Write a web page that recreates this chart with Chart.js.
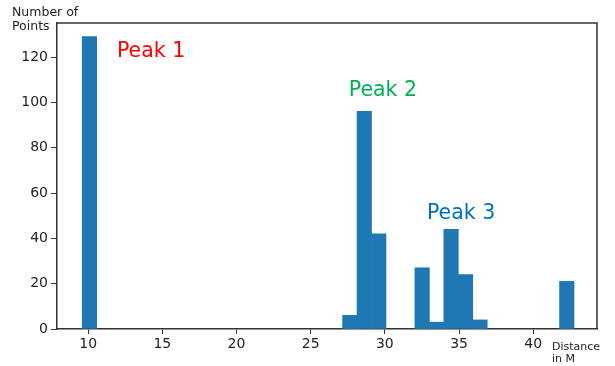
<!DOCTYPE html>
<html>
<head>
<meta charset="utf-8">
<script src="https://cdn.jsdelivr.net/npm/chart.js@4/dist/chart.umd.min.js"></script>
<style>
  html, body { margin: 0; padding: 0; background: #fff; }
  #wrap { width: 615px; height: 366px; }
</style>
</head>
<body>
<div id="wrap"><canvas id="hist"></canvas></div>
<script>
// histogram bins (centres in metres) and counts
const binCenters = [10.088, 27.638, 28.613, 29.588, 32.513, 33.488, 34.463, 35.438, 36.413, 42.263];
const counts     = [129,    6,      96,     42,     27,     3,      44,     24,     4,      21];

const xTicks = [10, 15, 20, 25, 30, 35, 40];
const yTicks = [0, 20, 40, 60, 80, 100, 120];

// peak labels: text, colour, data position (left / baseline)
const peakNames  = ['Peak 1', 'Peak 2', 'Peak 3'];
const peakColors = ['#ff0000', '#00b050', '#0070c0'];
const peakX      = [11.94, 27.57, 32.84];
const peakY      = [120.2, 102.9, 48.6];

const axisColor = '#333333';

Chart.defaults.font.family = '"DejaVu Sans", Verdana, sans-serif';
Chart.defaults.color = '#222';

const ctx = document.getElementById('hist');

new Chart(ctx, {
    type: 'bar',
    data: {
        datasets: [{
            data: binCenters.map((x, i) => ({ x: x, y: counts[i] })),
            backgroundColor: '#1f77b4',
            borderWidth: 0,
            barPercentage: 1,
            categoryPercentage: 1
        }]
    },
    options: {
        responsive: true,
        maintainAspectRatio: false,
        animation: false,
        layout: { padding: { top: 23, right: 18, left: 0, bottom: 0 } },
        plugins: { legend: { display: false }, tooltip: { enabled: false } },
        scales: {
            x: {
                type: 'linear',
                offset: false,
                min: 7.9,
                max: 44.3,
                afterBuildTicks: (scale) => { scale.ticks = xTicks.map(v => ({ value: v })); },
                afterFit: (scale) => { scale.height = 37; },
                grid: { offset: false, drawOnChartArea: false, drawTicks: true, tickLength: 5, color: axisColor, lineWidth: 1 },
                border: { display: true, color: axisColor, width: 1.5 },
                ticks: { font: { size: 14 }, padding: 2, maxRotation: 0, autoSkip: false }
            },
            y: {
                min: 0,
                max: 135,
                afterBuildTicks: (scale) => { scale.ticks = yTicks.map(v => ({ value: v })); },
                afterFit: (scale) => { scale.width = 57; },
                grid: { drawOnChartArea: false, drawTicks: true, tickLength: 6, color: axisColor, lineWidth: 1 },
                border: { display: true, color: axisColor, width: 1.5 },
                ticks: { font: { size: 14 }, padding: 3, autoSkip: false }
            }
        }
    },
    plugins: [{
        id: 'frameAndLabels',
        afterDraw: (chart) => {
            const { ctx, chartArea, scales: { x, y } } = chart;
            ctx.save();

            // top / right spines
            ctx.strokeStyle = axisColor;
            ctx.lineWidth = 1.5;
            ctx.beginPath();
            ctx.moveTo(chartArea.left, chartArea.top);
            ctx.lineTo(chartArea.right, chartArea.top);
            ctx.lineTo(chartArea.right, chartArea.bottom);
            ctx.stroke();

            // peak names
            ctx.font = '20.5px "DejaVu Sans", Verdana, sans-serif';
            ctx.textAlign = 'left';
            ctx.textBaseline = 'alphabetic';
            peakNames.forEach((name, i) => {
                ctx.fillStyle = peakColors[i];
                ctx.fillText(name, x.getPixelForValue(peakX[i]), y.getPixelForValue(peakY[i]));
            });

            // axis titles
            ctx.fillStyle = '#222';
            ctx.font = '12.5px "DejaVu Sans", Verdana, sans-serif';
            ctx.fillText('Number of', 12, 16);
            ctx.fillText('Points', 12, 30);

            ctx.font = '11px "DejaVu Sans", Verdana, sans-serif';
            ctx.fillText('Distance', 552, 350);
            ctx.fillText('in M', 552, 362);

            ctx.restore();
        }
    }]
});
</script>
</body>
</html>
